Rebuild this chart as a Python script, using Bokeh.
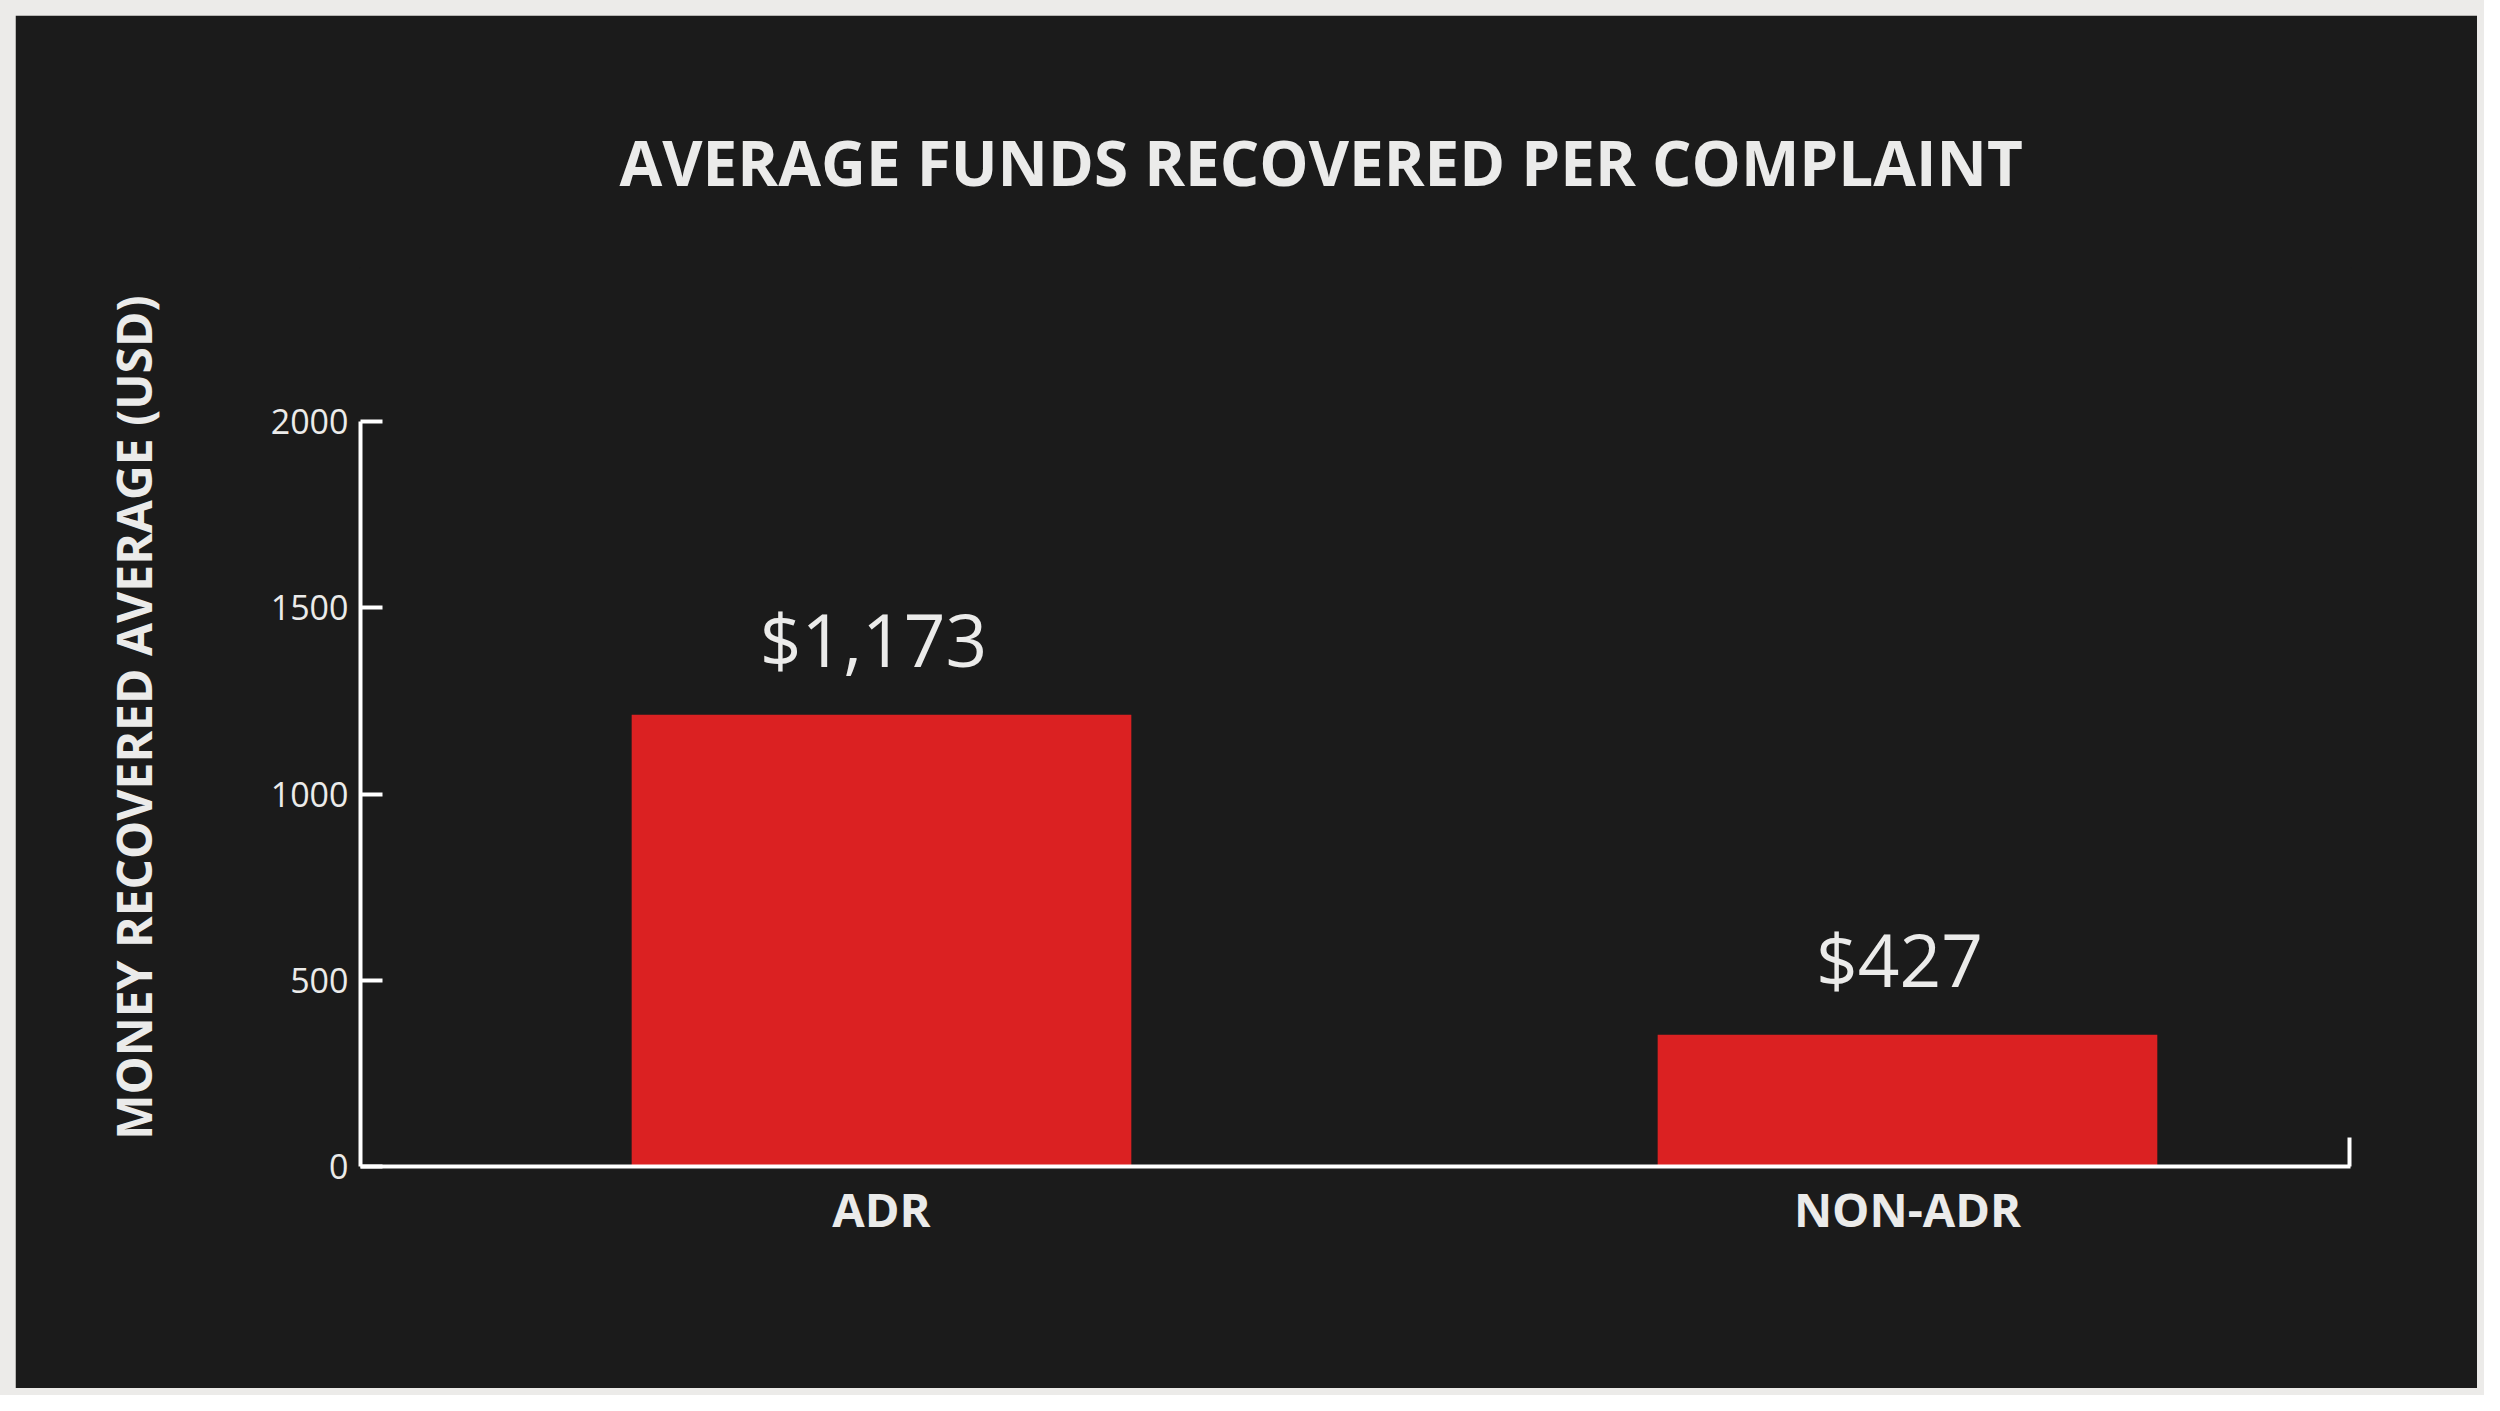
from bokeh.plotting import figure
from bokeh.layouts import column, row, Spacer
from bokeh.models import Range1d, FixedTicker, ColumnDataSource
from bokeh.core.properties import value
from bokeh.embed import file_html
from bokeh.resources import INLINE

# ---- data ----
categories = ["ADR", "NON-ADR"]
bar_values = [1213, 354]
value_labels = ["$1,173", "$427"]
y_ticks = [0, 500, 1000, 1500, 2000]
title_text = "AVERAGE FUNDS RECOVERED PER COMPLAINT"
y_label = "MONEY RECOVERED AVERAGE (USD)"

# ---- styling ----
BG = "#1B1B1B"
FRAME = "#ECEBE9"
BAR = "#DB2122"
TXT = "#EBEBEA"
AXIS = "#FFFFFF"

positions = [i + 0.5 for i in range(len(categories))]
src = ColumnDataSource(dict(x=positions, top=bar_values, lab=value_labels))

X0, X1 = -0.0078, 1.9318

p = figure(width=2462, height=1373, output_backend="svg", toolbar_location=None,
           x_range=Range1d(X0, X1), y_range=Range1d(0, 2411),
           min_border_left=345, min_border_right=127,
           min_border_top=253, min_border_bottom=222,
           background_fill_color=BG, border_fill_color=BG,
           outline_line_color=BG, outline_line_width=3)
p.xgrid.grid_line_color = None
p.ygrid.grid_line_color = None

p.vbar(x="x", top="top", bottom=0, width=0.487, source=src,
       fill_color=BAR, line_color=None)
p.text(x="x", y="top", text="lab", source=src,
       text_font=value("Open Sans"), text_font_size="73px", text_color=TXT,
       text_align="center", text_baseline="alphabetic", y_offset=-76, x_offset=-8)

# x axis
xa = p.xaxis[0]
xa.ticker = FixedTicker(ticks=positions, minor_ticks=[X1 - 0.0005])
xa.major_label_overrides = {pos: cat for pos, cat in zip(positions, categories)}
xa.major_tick_line_color = None
xa.minor_tick_in = 29
xa.minor_tick_out = 0
xa.minor_tick_line_color = AXIS
xa.minor_tick_line_width = 4
xa.axis_line_color = AXIS
xa.axis_line_width = 4
xa.major_label_text_font = "Open Sans"
xa.major_label_text_font_size = "47px"
xa.major_label_text_font_style = "bold"
xa.major_label_text_color = TXT
xa.major_label_standoff = 4

# y axis
ya = p.yaxis[0]
ya.bounds = (0, 2000)
ya.ticker = FixedTicker(ticks=y_ticks)
ya.major_tick_in = 22
ya.major_tick_out = 0
ya.major_tick_line_color = AXIS
ya.major_tick_line_width = 4
ya.minor_tick_line_color = None
ya.axis_line_color = AXIS
ya.axis_line_width = 4
ya.major_label_text_font = "Open Sans"
ya.major_label_text_font_size = "34px"
ya.major_label_text_color = TXT
ya.major_label_standoff = 12
ya.axis_label = y_label
ya.axis_label_text_font = "Open Sans"
ya.axis_label_text_font_size = "48px"
ya.axis_label_text_font_style = "bold"
ya.axis_label_text_color = TXT
ya.axis_label_standoff = 102

# title
p.title.text = title_text
p.title.align = "left"
p.title.offset = 259
p.title.text_font = "Open Sans"
p.title.text_font_size = "62px"
p.title.text_font_style = "bold"
p.title.text_color = TXT
p.title.standoff = 130

grey = {"background-color": FRAME}
page = column(
    Spacer(width=2484, height=15, styles=grey),
    row(Spacer(width=15, height=1373, styles=grey), p,
        Spacer(width=7, height=1373, styles=grey)),
    Spacer(width=2484, height=7, styles=grey),
    styles=grey,
)

open("out.html", "w").write(file_html(page, INLINE))
